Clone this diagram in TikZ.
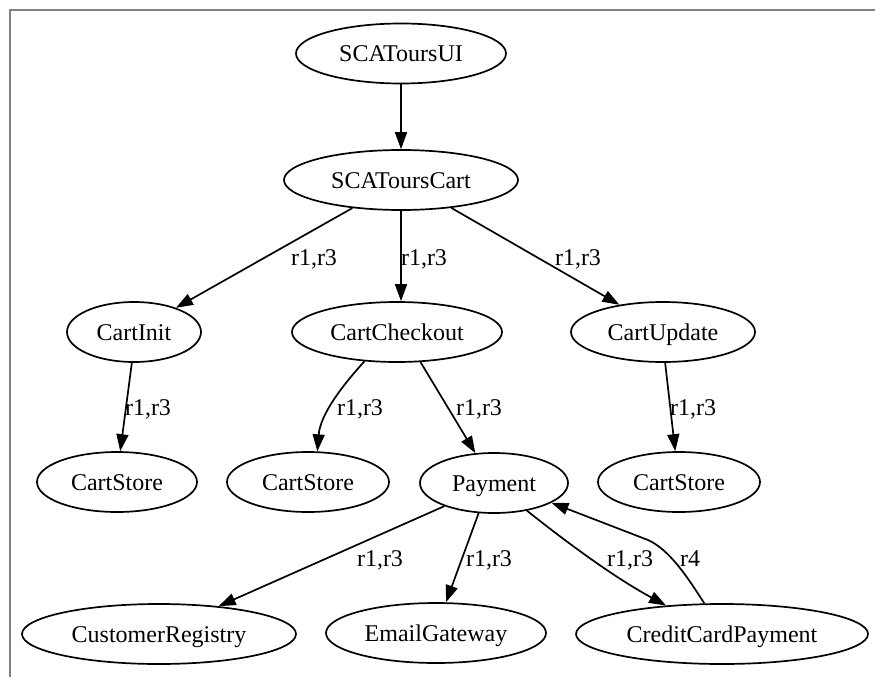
\documentclass[tikz,border=0pt]{standalone}
\usepackage{fontspec}
\setmainfont{Liberation Serif}
\usetikzlibrary{shapes.geometric,arrows.meta}
\newcommand\gvfont{\fontsize{24}{28}\selectfont}
\definecolor{framegray}{RGB}{128,128,128}
\tikzset{
  gnode/.style={draw, ellipse, line width=1.7pt, inner sep=0pt,
    minimum height=60pt, text height=17pt, text depth=1pt, font=\gvfont},
  gedge/.style={line width=1.7pt, -{Triangle[length=17pt,width=12pt]}},
  elabel/.style={font=\gvfont, anchor=base, inner sep=0pt},
  frameline/.style={draw=framegray, line width=2pt}
}
\begin{document}
\begin{tikzpicture}[x=1pt, y=-1pt]
\useasboundingbox (0,0) rectangle (875,677);
\draw[frameline] (10,677) -- (10,10) -- (875,10);

% nodes
\node[gnode, minimum width=210pt] (ui)       at (401,53.5) {SCAToursUI};
\node[gnode, minimum width=234pt] (cart)     at (401,180)  {SCAToursCart};
\node[gnode, minimum width=134pt] (init)     at (134,332)  {CartInit};
\node[gnode, minimum width=210pt] (checkout) at (397,332)  {CartCheckout};
\node[gnode, minimum width=184pt] (update)   at (663,332)  {CartUpdate};
\node[gnode, minimum width=160pt] (storeA)   at (117,482)  {CartStore};
\node[gnode, minimum width=162pt] (storeB)   at (308,482)  {CartStore};
\node[gnode, minimum width=148pt] (payment)  at (494,483)  {Payment};
\node[gnode, minimum width=162pt] (storeC)   at (679,482)  {CartStore};
\node[gnode, minimum width=274pt] (registry) at (159,634)  {CustomerRegistry};
\node[gnode, minimum width=220pt] (email)    at (436,633)  {EmailGateway};
\node[gnode, minimum width=292pt] (credit)   at (722,634)  {CreditCardPayment};

% edges
\draw[gedge] (ui) -- (cart);
\draw[gedge] (cart.210) -- (init.30);
\draw[gedge] (cart.south) -- (cart.south |- checkout.north);
\draw[gedge] (cart.331) -- (update.148);
\draw[gedge] (init.-94) -- (storeA.84);
\draw[gedge] (checkout.222) .. controls +(-20,22) and +(3,-38) .. (storeB.73);
\draw[gedge] (checkout.308) -- (payment.122);
\draw[gedge] (update.-86) -- (storeC.97);
\draw[gedge] (payment.205) -- (registry.25);
\draw[gedge] (payment.243) -- (email.72);
\draw[gedge] (payment.320) .. controls (560,537) and (610,575) .. (credit.153);
\draw[gedge] (credit.120) .. controls (688,578) and (670,550) .. (648,540) -- (payment.341);

% edge labels
\node[elabel] (l1)  at (314,265) {r1,r3};
\node[elabel] (l2)  at (424,265) {r1,r3};
\node[elabel] (l3)  at (578,265) {r1,r3};
\node[elabel] (l4)  at (148,415) {r1,r3};
\node[elabel] (l5)  at (360,415) {r1,r3};
\node[elabel] (l6)  at (479,415) {r1,r3};
\node[elabel] (l7)  at (693,415) {r1,r3};
\node[elabel] (l8)  at (380,566) {r1,r3};
\node[elabel] (l9)  at (489,566) {r1,r3};
\node[elabel] (l10) at (630,566) {r1,r3};
\node[elabel] (l11) at (690,566) {r4};
\end{tikzpicture}
\end{document}
